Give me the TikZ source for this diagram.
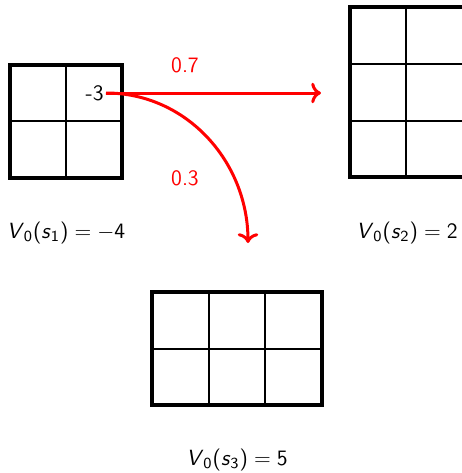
\documentclass[tikz,border=0pt]{standalone}
\usepackage{tikz}
\usetikzlibrary{positioning, arrows.meta}

\tikzset{
  stateframe/.style={line width=2pt},
  stateline/.style={line width=1pt},
  valuelabel/.style={font=\sffamily\fontsize{11}{13}\selectfont},
  rewardlabel/.style={font=\sffamily\fontsize{11}{13}\selectfont, inner sep=1pt},
  probarrow/.style={->, red, line width=1.5pt},
  problabel/.style={font=\sffamily\fontsize{11}{13}\selectfont, red},
}
\newcommand{\vzero}[2]{\textit{V}\textsubscript{0}(\textit{s}\textsubscript{#1})\;=\;#2}

\begin{document}
\begin{tikzpicture}[x=0.5pt, y=0.5pt]
    \useasboundingbox (0,0) rectangle (462,473);
    % Estado s1 (2x2)
    \draw[stateline] (66,295) -- (66,408);
    \draw[stateline] (10,352) -- (122,352);
    \draw[stateframe] (10,295) rectangle (122,408);
    % Estado s2 (2x3)
    \draw[stateline] (406,296) -- (406,466);
    \draw[stateline] (350,409) -- (464,409);
    \draw[stateline] (350,352) -- (464,352);
    \draw[stateframe] (350,296) rectangle (464,466);
    % Estado s3 (3x2)
    \draw[stateline] (209,68) -- (209,181);
    \draw[stateline] (265,68) -- (265,181);
    \draw[stateline] (152,124.5) -- (322,124.5);
    \draw[stateframe] (152,68) rectangle (322,181);
    % Valores
    \node[valuelabel] (v1) at (66,240) {\vzero{1}{$-$4}};
    \node[valuelabel] (v2) at (407,240) {\vzero{2}{2}};
    \node[valuelabel] (v3) at (237,13) {\vzero{3}{5}};
    % Recompensa e transicoes
    \node[rewardlabel, anchor=east] (rew) at (106,380) {-3};
    \coordinate (to2) at (321,380);
    \coordinate (to3) at (248,230);
    \draw[probarrow] (rew.east) -- (to2);
    \draw[probarrow] (rew.east) to[out=0, in=90] (to3);
    \node[problabel] (p7) at (185,408) {0.7};
    \node[problabel] (p3) at (185,295) {0.3};
\end{tikzpicture}
\end{document}
